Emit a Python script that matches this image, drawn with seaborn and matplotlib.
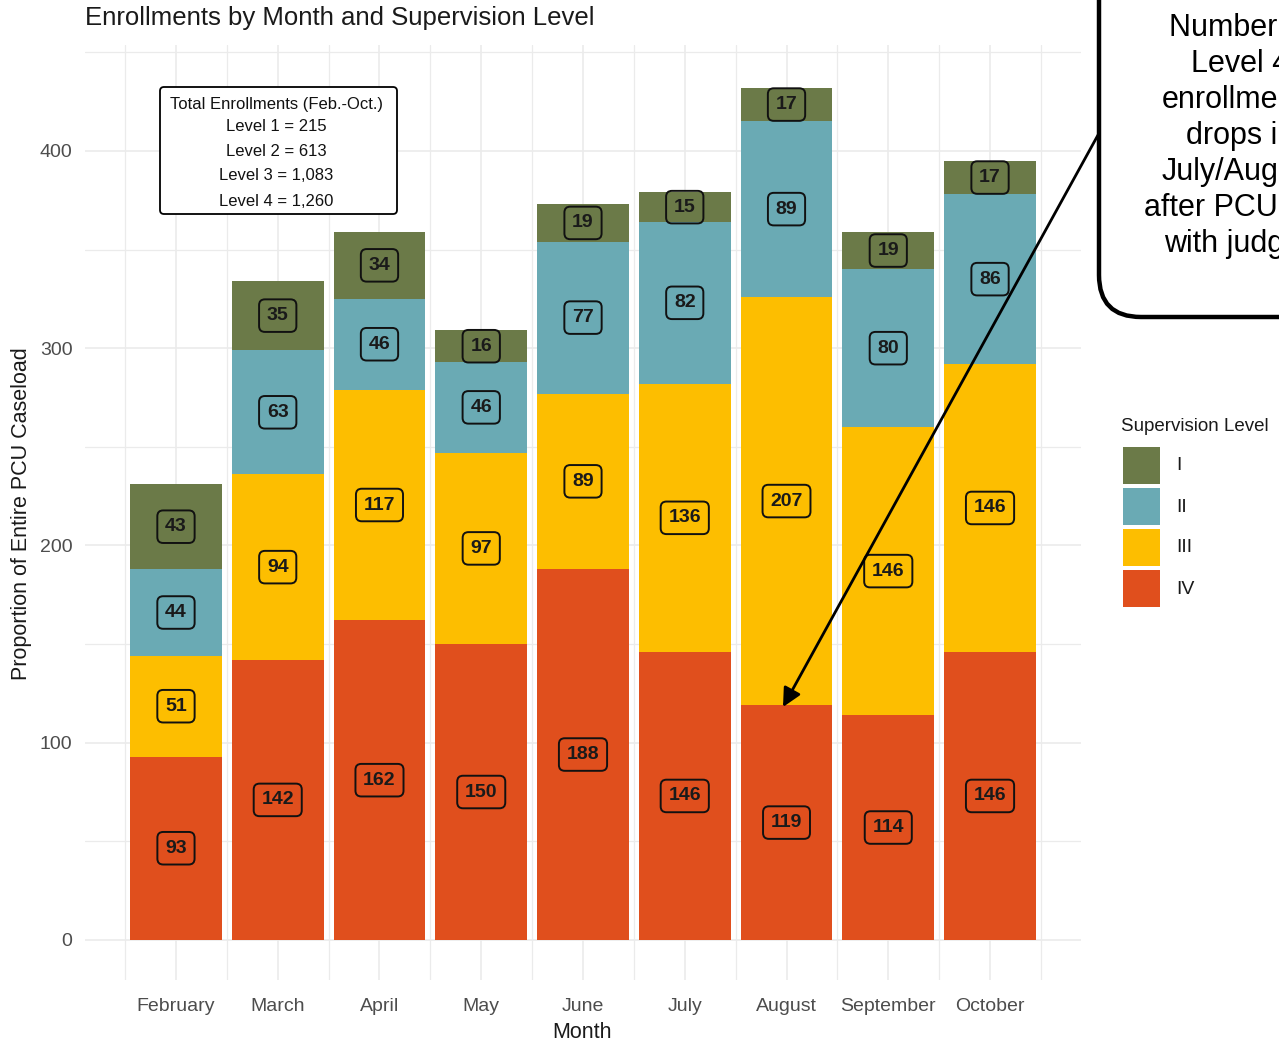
import pandas as pd
import numpy as np
import seaborn as sns
import matplotlib.pyplot as plt
from matplotlib.patches import FancyBboxPatch, FancyArrowPatch, Rectangle
from matplotlib.transforms import IdentityTransform

# data
months = ['February', 'March', 'April', 'May', 'June', 'July', 'August', 'September', 'October']
level_4 = [93, 142, 162, 150, 188, 146, 119, 114, 146]
level_3 = [51, 94, 117, 97, 89, 136, 207, 146, 146]
level_2 = [44, 63, 46, 46, 77, 82, 89, 80, 86]
level_1 = [43, 35, 34, 16, 19, 15, 17, 19, 17]
level_names = ['I', 'II', 'III', 'IV']
level_colors = ['#6b7a48', '#6aaab4', '#fdbe00', '#e04f1d']
totals_text = ['Total Enrollments (Feb.-Oct.)', 'Level 1 = 215', 'Level 2 = 613',
               'Level 3 = 1,083', 'Level 4 = 1,260']
note = 'Number of\nLevel 4\nenrollments\ndrops in\nJuly/August\nafter PCU met\nwith judges'

W, H = 1279, 1042
sns.set_theme(style='white')
plt.rcParams['font.family'] = ['Liberation Sans', 'DejaVu Sans']

df = pd.DataFrame({'month': months, 'IV': level_4, 'III': level_3, 'II': level_2, 'I': level_1})
# bottom-up stack: IV, III, II, I
stack = ['IV', 'III', 'II', 'I']
cum = df[stack].cumsum(axis=1)

fig = plt.figure(figsize=(W / 100, H / 100), dpi=100)
ax = fig.add_axes([85 / W, 1 - 980 / H, (1081 - 85) / W, (980 - 45) / H])

color_of = dict(zip(level_names, level_colors))
for lev in reversed(stack):
    sns.barplot(x=df['month'], y=cum[lev], order=months, color=color_of[lev],
                saturation=1, width=0.9, linewidth=0, errorbar=None, ax=ax, zorder=2)

# segment labels
for i in range(len(months)):
    bottom = 0
    for lev in stack:
        v = df.loc[i, lev]
        ax.text(i, bottom + v / 2, str(v), ha='center', va='center', fontsize=14,
                fontweight='bold', color='#1a1a1a', zorder=5,
                bbox=dict(boxstyle='round,pad=0.4,rounding_size=0.3', fc='none',
                          ec='#111111', lw=1.4))
        bottom += v

ax.set_xlim(-0.894, 8.894)
ax.set_ylim(-20.3, 453.7)
ax.set_xticks(range(len(months)))
ax.set_xticklabels(months)
ax.set_xticks(np.arange(-0.5, len(months), 1.0), minor=True)
ax.set_yticks([0, 100, 200, 300, 400])
ax.set_yticks([50, 150, 250, 350, 450], minor=True)
ax.grid(which='major', color='#ebebeb', lw=1.2, zorder=0)
ax.grid(which='minor', color='#ebebeb', lw=0.9, zorder=0)
ax.set_axisbelow(True)
for s in ax.spines.values():
    s.set_visible(False)
ax.tick_params(which='both', length=0)
ax.tick_params(axis='y', labelsize=14, labelcolor='#4d4d4d', pad=9)
ax.tick_params(axis='x', labelsize=14, labelcolor='#4d4d4d', pad=13)
ax.set_xlabel('')
ax.set_ylabel('')

fig.text(85 / W, 1 - 18 / H, 'Enrollments by Month and Supervision Level', ha='left',
         va='center', fontsize=18.5, color='#1a1a1a')
fig.text(582 / W, 1 - 1032 / H, 'Month', ha='center', va='center', fontsize=15.5,
         color='#1a1a1a')
fig.text(22 / W, 1 - 514 / H, 'Proportion of Entire PCU Caseload', ha='center',
         va='center', rotation=90, fontsize=15.5, color='#1a1a1a')

# totals box
px = IdentityTransform()
fig.add_artist(FancyBboxPatch((160, H - 214), 237, 127, transform=px,
                              boxstyle='round,pad=0,rounding_size=4', fc='white',
                              ec='black', lw=1.3, zorder=6))
ys = [104, 127, 152, 176, 201]
for t, y in zip(totals_text, ys):
    fig.text(276 / W, 1 - y / H, t, ha='center', va='center', fontsize=12,
             color='#111111', zorder=7)

# legend (drawn by hand to get the square keys)
fig.text(1121 / W, 1 - 427 / H, 'Supervision Level', ha='left', va='center',
         fontsize=13.5, color='#1a1a1a')
for k, (name, c) in enumerate(zip(level_names, level_colors)):
    top = 447 + 41 * k
    fig.add_artist(Rectangle((1123, H - top - 37), 37, 37, transform=px, fc=c, ec='none'))
    fig.text(1176 / W, 1 - (top + 19) / H, name, ha='left', va='center', fontsize=14,
             color='#1a1a1a')

# callout
fig.add_artist(FancyBboxPatch((1099, H - 317), 400, 400, transform=px,
                              boxstyle='round,pad=0,rounding_size=42', fc='white',
                              ec='black', lw=3.2, zorder=8))
fig.text(1240 / W, 1 - 136 / H, note, ha='center', va='center', fontsize=22,
         linespacing=1.26, color='black', zorder=9)
fig.add_artist(FancyArrowPatch((1098, H - 135), (783, H - 707), transform=px,
                               arrowstyle='-|>', mutation_scale=28, lw=2,
                               color='black', shrinkA=0, shrinkB=0, zorder=9))

fig.savefig('out.png', dpi=100)
